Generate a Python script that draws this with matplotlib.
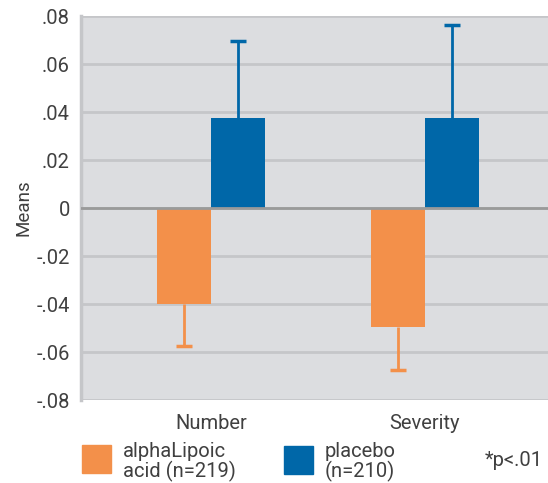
import numpy as np
import matplotlib
matplotlib.use('Agg')
import matplotlib.pyplot as plt
from matplotlib.patches import Rectangle

plt.rcParams['font.family'] = ['Roboto', 'DejaVu Sans']

categories = ['Number', 'Severity']
lipoic_means = [-0.040, -0.0497]
lipoic_err = [0.0175, 0.0179]
placebo_means = [0.0377, 0.0377]
placebo_err = [0.0318, 0.0384]
ytick_vals = [-0.08, -0.06, -0.04, -0.02, 0, 0.02, 0.04, 0.06, 0.08]
ytick_labels = ['-.08', '-.06', '-.04', '-.02', '0', '.02', '.04', '.06', '.08']
legend_labels = ['alphaLipoic\nacid (n=219)', 'placebo\n(n=210)']

ORANGE = '#f3904a'
BLUE = '#0067a8'
TXT = '#404040'
FS = 14.5

fig = plt.figure(figsize=(5.48, 4.83), dpi=100)
ax = fig.add_axes([81/548, 83/483, 467/548, 384/483])
ax.set_facecolor('#dcdde0')

x = np.arange(len(categories))
w = 0.252

ax.bar(x - w/2, lipoic_means, w, color=ORANGE, zorder=3)
ax.bar(x + w/2, placebo_means, w, color=BLUE, zorder=3)

# one-sided error bars: stem from bar end plus a cap
lip_end = np.array(lipoic_means) - np.array(lipoic_err)
pla_end = np.array(placebo_means) + np.array(placebo_err)
ax.vlines(x - w/2, lip_end, lipoic_means, color=ORANGE, linewidth=2, zorder=2)
ax.vlines(x + w/2, placebo_means, pla_end, color=BLUE, linewidth=2, zorder=2)
ax.plot(x - w/2, lip_end, ls='none', marker='_', ms=12, mew=2.5, color=ORANGE, zorder=2)
ax.plot(x + w/2, pla_end, ls='none', marker='_', ms=12, mew=2.5, color=BLUE, zorder=2)

ax.axhline(0, color='#9a9a9a', linewidth=2, zorder=4)

ax.set_xlim(-0.607, 1.575)
ax.set_ylim(-0.08, 0.08)
ax.set_yticks(ytick_vals)
ax.set_yticklabels(ytick_labels)
ax.set_xticks(x)
ax.set_xticklabels(categories)
ax.tick_params(axis='both', length=0, labelsize=FS, colors=TXT)
ax.tick_params(axis='y', pad=8)
ax.tick_params(axis='x', pad=10)
ax.yaxis.grid(True, color='#c5c6c9', linewidth=2)
ax.set_axisbelow(True)
for s in ['top', 'right', 'bottom']:
    ax.spines[s].set_visible(False)
ax.spines['left'].set_color('#c5c6c9')
ax.spines['left'].set_linewidth(2.5)
ax.set_ylabel('Means', fontsize=13.5, color=TXT, labelpad=3)

# legend drawn by hand below the axes
fig.add_artist(Rectangle((82/548, 1 - 473/483), 29/548, 28/483,
                         transform=fig.transFigure, color=ORANGE))
fig.add_artist(Rectangle((284/548, 1 - 474/483), 29/548, 28/483,
                         transform=fig.transFigure, color=BLUE))
fig.text(123/548, 1 - 462/483, legend_labels[0], fontsize=FS, color=TXT,
         va='center', linespacing=1.0)
fig.text(325/548, 1 - 462/483, legend_labels[1], fontsize=FS, color=TXT,
         va='center', linespacing=1.0)
fig.text(485/548, 1 - 460/483, '*p<.01', fontsize=FS, color=TXT, va='center')

plt.savefig('out.png', dpi=100)
